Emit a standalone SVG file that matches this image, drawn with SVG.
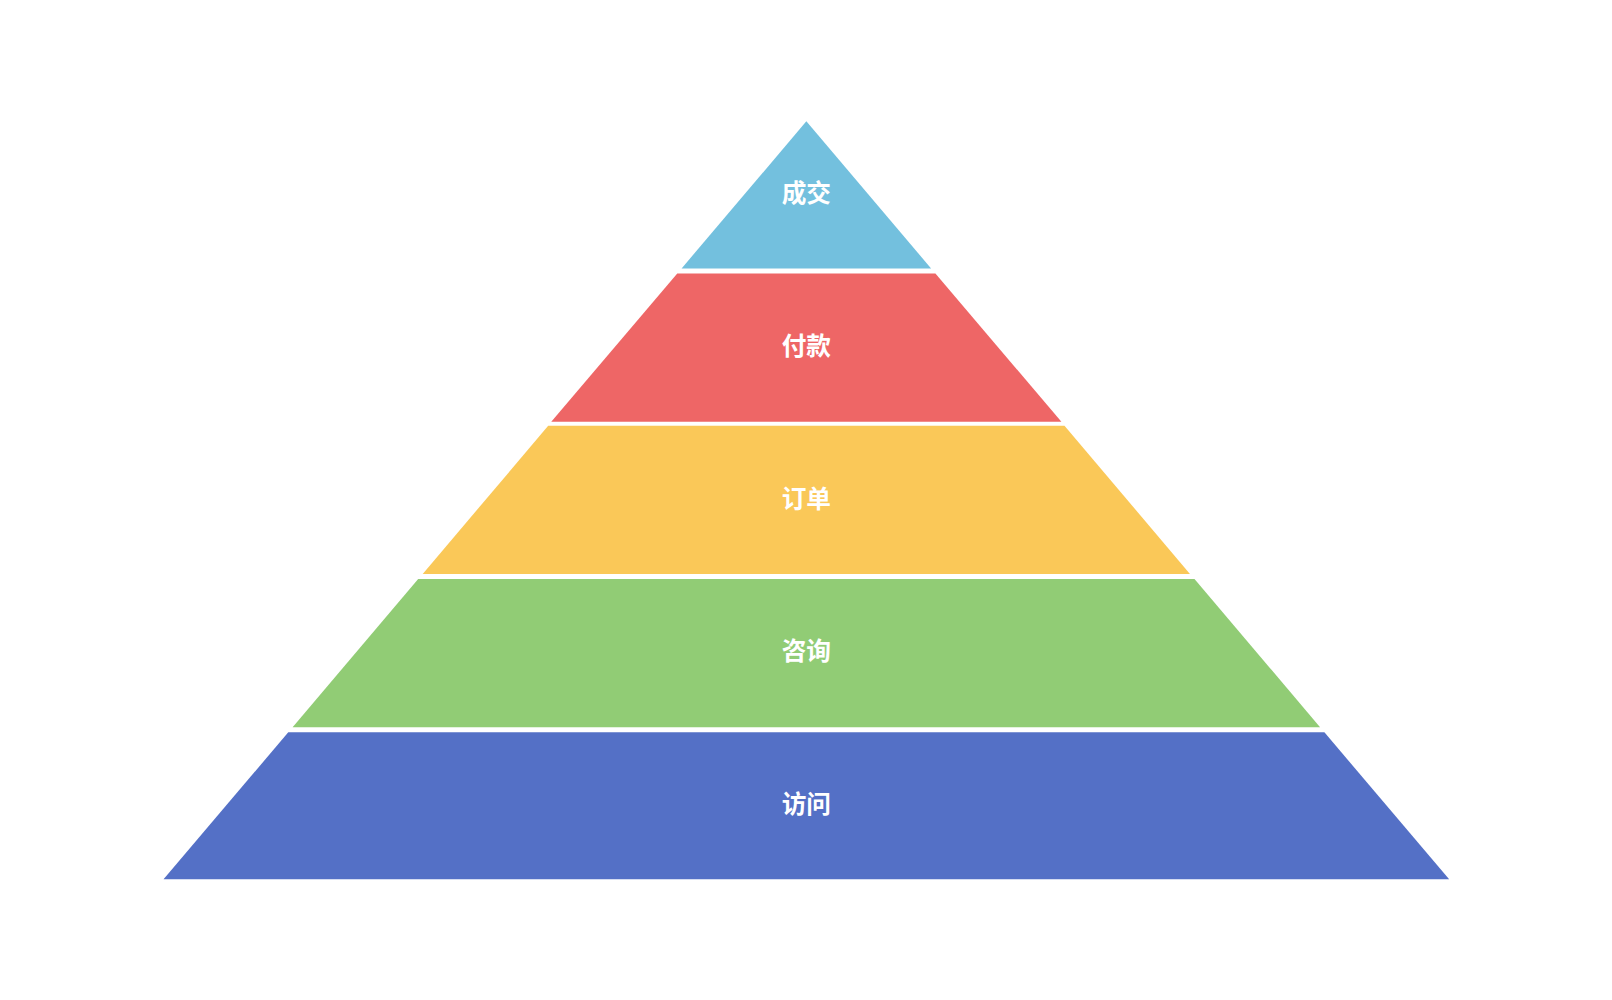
<svg xmlns="http://www.w3.org/2000/svg" width="1612" height="1000" viewBox="0 0 1612 1000">
<style>
text{font-family:"Noto Sans CJK SC","Liberation Sans",sans-serif;font-size:24px;font-weight:bold;fill:#fff;text-anchor:middle;dominant-baseline:central}
</style>
<rect width="1612" height="1000" fill="#fff"/>
<g transform="scale(1.0285)">
<g id="n1"><polygon points="784,118 905.3,261 662.7,261" fill="#73c0de"/><text x="784" y="186">成交</text></g>
<g id="n2"><polygon points="658.5,266 909.5,266 1032,410 536,410" fill="#ee6666"/><text x="784" y="334">付款</text></g>
<g id="n3"><polygon points="533,414 1035,414 1157,558 411,558" fill="#fac858"/><text x="784" y="483">订单</text></g>
<g id="n4"><polygon points="406.6,563 1161.4,563 1283.5,707 284.5,707" fill="#91cc75"/><text x="784" y="631">咨询</text></g>
<g id="n5"><polygon points="280.3,712 1287.7,712 1409,855 159,855" fill="#5470c6"/><text x="784" y="780">访问</text></g>
</g>
<g id="connectors"/>
</svg>
